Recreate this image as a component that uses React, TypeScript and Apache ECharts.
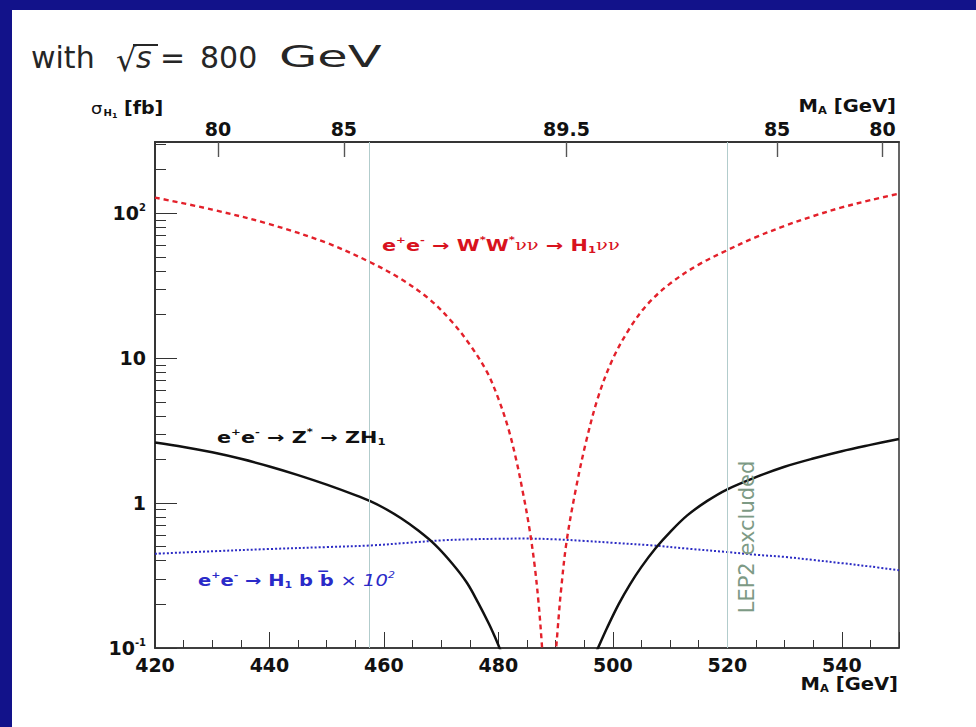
import React, { useEffect, useRef } from 'react';
import * as echarts from 'echarts';

// ---- data (M_H1 in GeV, sigma in fb) ----
const massRedLeft = [420, 430, 440, 450, 457.7, 463, 468, 472, 475, 478, 480, 481.7, 483.1, 484.3, 485.4, 486.3, 487.0, 487.6, 488.0];
const sigmaRedLeft = [128.2, 105.9, 84.1, 62.4, 45.7, 35.1, 25.4, 17.6, 12.4, 8.04, 5.25, 3.31, 2.0, 1.175, 0.676, 0.38, 0.209, 0.105, 0.056];
const massRedRight = [490.0, 490.5, 490.9, 491.9, 493.5, 495.3, 497.5, 500, 503, 506, 510, 515, 520, 525, 530, 535, 540, 545, 550];
const sigmaRedRight = [0.089, 0.158, 0.24, 0.537, 1.23, 2.63, 5.5, 9.89, 16.2, 23.4, 32.7, 44.2, 55.6, 68.4, 81.7, 95.5, 109.6, 123, 136.5];

const massBlackLeft = [420, 425, 430, 435, 440, 445, 450, 455, 457.7, 460, 463, 466, 469, 472, 474.5, 476.5, 478.3, 479.4, 480.2, 480.8];
const sigmaBlackLeft = [2.62, 2.44, 2.24, 2.02, 1.79, 1.56, 1.34, 1.135, 1.028, 0.925, 0.785, 0.646, 0.513, 0.38, 0.282, 0.204, 0.148, 0.119, 0.1, 0.087];
const massBlackRight = [497.0, 497.4, 499, 501, 503, 505, 507.5, 510, 513, 516.5, 520, 525, 530, 535, 540, 545, 550];
const sigmaBlackRight = [0.092, 0.1, 0.138, 0.2, 0.275, 0.363, 0.49, 0.631, 0.822, 1.035, 1.245, 1.51, 1.78, 2.03, 2.28, 2.52, 2.77];

const massBlue = [420, 430, 440, 450, 457.7, 465, 470, 475, 480, 485, 490, 495, 500, 507, 513, 520, 525, 530, 535, 540, 545, 550];
const sigmaBlue = [0.447, 0.465, 0.482, 0.497, 0.51, 0.535, 0.553, 0.562, 0.567, 0.569, 0.562, 0.548, 0.532, 0.51, 0.485, 0.459, 0.44, 0.425, 0.405, 0.385, 0.365, 0.344];

const lep2Bounds = [457.5, 520];

// top axis: M_A values at M_H1 positions
const topTickPos = [431.0, 453.0, 491.9, 528.7, 547.1];
const topTickLabels = ['80', '85', '89.5', '85', '80'];

const yMinorTicks = [0.2, 0.3, 0.4, 0.5, 0.6, 0.7, 0.8, 0.9, 2, 3, 4, 5, 6, 7, 8, 9, 20, 30, 40, 50, 60, 70, 80, 90, 200, 300];

const xMin = 420;
const xMax = 550;
const yMin = 0.1;
const yMax = 310;

const BOLD = "'DejaVu Sans', Verdana, sans-serif";
const NAVY = '#12128a';
const FRAME = '#333333';

function pairs(xs: number[], ys: number[]) {
  return xs.map((x, i) => [x, ys[i]]);
}

export default function App() {
  const ref = useRef<HTMLDivElement>(null);

  useEffect(() => {
    if (!ref.current) return;
    const chart = echarts.init(ref.current, null, { renderer: 'svg' });

    const redStyle = { color: '#e3202a', width: 2.4, type: [5, 4] as any };
    const blackStyle = { color: '#111111', width: 2.5, type: 'solid' as any };
    const blueStyle = { color: '#2b2bc4', width: 2, type: [2, 2] as any };

    const lineSeries = (data: number[][], lineStyle: any, extra: any = {}) => ({
      type: 'line',
      xAxisIndex: 0,
      yAxisIndex: 0,
      data,
      showSymbol: false,
      symbol: 'none',
      smooth: 0.35,
      clip: true,
      lineStyle,
      itemStyle: { color: lineStyle.color },
      silent: true,
      ...extra,
    });

    const labelRich = (color: string) => ({
      b: { fontFamily: BOLD, fontWeight: 'bold', fontSize: 16, fill: color, color },
      n: { fontFamily: "'DejaVu Serif', serif", fontSize: 15, fill: color, color },
      sup: { fontFamily: BOLD, fontWeight: 'bold', fontSize: 9, fill: color, color, padding: [0, 0, 10, 0] },
      sub: { fontFamily: BOLD, fontWeight: 'bold', fontSize: 9, fill: color, color, padding: [10, 0, 0, 0] },
      i: { fontFamily: BOLD, fontStyle: 'italic', fontSize: 16, fill: color, color },
      isup: { fontFamily: BOLD, fontStyle: 'italic', fontSize: 9, fill: color, color, padding: [0, 0, 10, 0] },
    });

    const txt = (x: number, y: number, text: string, style: any, extra: any = {}) => ({
      type: 'text',
      x,
      y,
      silent: true,
      z: 100,
      style: { text, align: 'left', verticalAlign: 'middle', textAlign: 'left', textVerticalAlign: 'middle', ...style },
      ...extra,
    });

    const titleFont = { fontFamily: "'DejaVu Sans', sans-serif", fontSize: 30, fill: '#262626' };
    const tickFont = { fontFamily: BOLD, fontWeight: 'bold', fontSize: 19, color: '#111' };
    const axisLine = { show: true, onZero: false, lineStyle: { color: FRAME, width: 1.5 } };

    const topFormatter = (v: number) => {
      let best = 0;
      for (let i = 1; i < topTickPos.length; i++) {
        if (Math.abs(topTickPos[i] - v) < Math.abs(topTickPos[best] - v)) best = i;
      }
      return topTickLabels[best];
    };

    const option: any = {
      animation: false,
      backgroundColor: '#ffffff',
      grid: {
        left: 155,
        right: 77,
        top: 142,
        bottom: 79,
        show: true,
        borderColor: FRAME,
        borderWidth: 1.5,
        backgroundColor: 'transparent',
      },
      xAxis: [
        {
          type: 'value',
          min: xMin,
          max: xMax,
          interval: 20,
          position: 'bottom',
          axisLine,
          splitLine: { show: false },
          axisTick: { show: true, inside: true, length: 16, lineStyle: { color: FRAME, width: 1 } },
          minorTick: { show: true, splitNumber: 4, length: 8, lineStyle: { color: FRAME, width: 1 } },
          minorSplitLine: { show: false },
          axisLabel: { margin: 7, showMaxLabel: false, ...tickFont },
        },
        {
          type: 'value',
          min: xMin,
          max: xMax,
          position: 'top',
          axisLine,
          splitLine: { show: false },
          axisTick: {
            show: true,
            inside: true,
            length: 15,
            customValues: topTickPos,
            lineStyle: { color: '#555', width: 1.2 },
          },
          axisLabel: {
            customValues: topTickPos,
            margin: 4,
            ...tickFont,
            formatter: topFormatter,
          },
        },
        {
          // helper axis carrying only the top tick marks
          type: 'value',
          show: true,
          min: xMin,
          max: xMax,
          position: 'top',
          axisLine,
          splitLine: { show: false },
          axisTick: {
            show: true,
            inside: true,
            length: 15,
            customValues: topTickPos,
            lineStyle: { color: '#555', width: 1.2 },
          },
          axisLabel: {
            show: true,
            customValues: topTickPos,
            formatter: () => '',
          },
        },
      ],
      yAxis: [
        {
          type: 'log',
          logBase: 10,
          min: yMin,
          max: yMax,
          position: 'left',
          axisLine,
          splitLine: { show: false },
          axisTick: { show: true, inside: true, length: 22, lineStyle: { color: FRAME, width: 1 } },
          axisLabel: {
            margin: 9,
            showMaxLabel: false,
            formatter: (v: number) => {
              const e = Math.round(Math.log10(v));
              if (e === 0) return '{b|1}';
              if (e === 1) return '{b|10}';
              return `{b|10}{s|${e}}`;
            },
            rich: {
              b: { fontFamily: BOLD, fontWeight: 'bold', fontSize: 19, color: '#111' },
              s: { fontFamily: BOLD, fontWeight: 'bold', fontSize: 10, color: '#111', padding: [0, 0, 12, 0] },
            },
          },
        },
        {
          type: 'value',
          show: true,
          min: Math.log10(yMin),
          max: Math.log10(yMax),
          position: 'left',
          axisLine,
          splitLine: { show: false },
          axisLabel: {
            show: true,
            customValues: yMinorTicks.map((v) => Math.log10(v)),
            formatter: () => '',
          },
          axisTick: {
            show: true,
            inside: true,
            length: 11,
            customValues: yMinorTicks.map((v) => Math.log10(v)),
            lineStyle: { color: FRAME, width: 1 },
          },
        },
      ],
      series: [
        lineSeries(pairs(massBlue, sigmaBlue), blueStyle, {
          markLine: {
            silent: true,
            symbol: ['none', 'none'],
            label: { show: false },
            lineStyle: { color: '#b2cccc', width: 1, type: 'solid' },
            data: lep2Bounds.map((v) => ({ xAxis: v })),
          },
        }),
        lineSeries(pairs(massRedLeft, sigmaRedLeft), redStyle),
        lineSeries(pairs(massRedRight, sigmaRedRight), redStyle),
        lineSeries(pairs(massBlackLeft, sigmaBlackLeft), blackStyle),
        lineSeries(pairs(massBlackRight, sigmaBlackRight), blackStyle),
      ],
      graphic: [
        { type: 'rect', silent: true, z: 50, shape: { x: 0, y: 0, width: 12, height: 727 }, style: { fill: NAVY } },
        { type: 'rect', silent: true, z: 50, shape: { x: 0, y: 0, width: 976, height: 10 }, style: { fill: NAVY } },
        // title
        txt(31, 57, 'with', titleFont),
        txt(116, 60, '\u221A', { ...titleFont, fontSize: 32 }),
        { type: 'line', silent: true, z: 100, shape: { x1: 133, y1: 45, x2: 158, y2: 45 }, style: { stroke: '#262626', lineWidth: 2 } },
        txt(136, 57, 's', { ...titleFont, fontStyle: 'italic' }),
        txt(160, 57, '=', titleFont),
        txt(200, 57, '800', titleFont),
        txt(279, 57, 'GeV', titleFont, { scaleX: 1.65 }),
        // y axis title
        txt(91, 108, '{sig|\u03C3}{sub|H}{sub2|1}{b| [fb]}', {
          rich: {
            sig: { fontFamily: "'DejaVu Sans', sans-serif", fontSize: 16, fill: '#111' },
            sub: { fontFamily: BOLD, fontWeight: 'bold', fontSize: 9, fill: '#111', padding: [10, 0, 0, 1] },
            sub2: { fontFamily: BOLD, fontWeight: 'bold', fontSize: 7, fill: '#111', padding: [15, 0, 0, 0] },
            b: { fontFamily: BOLD, fontWeight: 'bold', fontSize: 17, fill: '#111' },
          },
        }, { scaleX: 1.12 }),
        // top axis title
        txt(896, 106, '{b|M}{sub|A}{b| [GeV]}', {
          align: 'right',
          textAlign: 'right',
          rich: {
            b: { fontFamily: BOLD, fontWeight: 'bold', fontSize: 17, fill: '#111' },
            sub: { fontFamily: BOLD, fontWeight: 'bold', fontSize: 10, fill: '#111', padding: [10, 0, 0, 0] },
          },
        }, { scaleX: 1.15 }),
        // bottom axis title
        txt(898, 684, '{b|M}{sub|A}{b| [GeV]}', {
          align: 'right',
          textAlign: 'right',
          rich: {
            b: { fontFamily: BOLD, fontWeight: 'bold', fontSize: 17, fill: '#111' },
            sub: { fontFamily: BOLD, fontWeight: 'bold', fontSize: 10, fill: '#111', padding: [10, 0, 0, 0] },
          },
        }, { scaleX: 1.15 }),
        // curve labels
        txt(382, 245, '{b|e}{sup|+}{b|e}{sup|-}{b| \u2192 W}{sup|*}{b|W}{sup|*}{n|\u03BD\u03BD}{b| \u2192 H}{sub|1}{n|\u03BD\u03BD}', {
          rich: labelRich('#d8121e'),
        }, { scaleX: 1.3 }),
        txt(217, 437, '{b|e}{sup|+}{b|e}{sup|-}{b| \u2192 Z}{sup|*}{b| \u2192 ZH}{sub|1}', {
          rich: labelRich('#111111'),
        }, { scaleX: 1.3 }),
        txt(198, 580, '{b|e}{sup|+}{b|e}{sup|-}{b| \u2192 H}{sub|1}{b| b b\u0305 }{i|\u00D7 10}{isup|2}', {
          rich: labelRich('#2a2ac8'),
        }, { scaleX: 1.22 }),
        // LEP2 excluded
        txt(747, 537, 'LEP2 excluded', {
          align: 'center',
          textAlign: 'center',
          fontFamily: "'DejaVu Sans', sans-serif",
          fontSize: 21,
          fill: '#7d9a85',
        }, { rotation: Math.PI / 2 }),
      ],
    };

    chart.setOption(option);
    return () => chart.dispose();
  }, []);

  return (
    <div
      ref={ref}
      style={{ position: 'absolute', left: 0, top: 0, width: 976, height: 727, background: '#fff' }}
    />
  );
}
